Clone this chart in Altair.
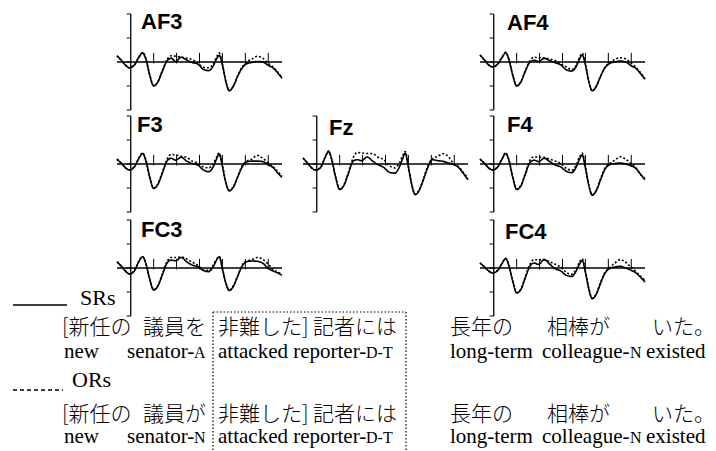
import altair as alt
import pandas as pd

# ---------------- data ----------------
# time points in ms (tick marks every 500 ms, 0 at the vertical axis)
T = [-300, -200, -100, -30, 80, 180, 260, 330, 410, 500, 590, 690, 790, 880, 980,
     1100, 1220, 1340, 1460, 1580, 1700, 1800, 1870, 1930, 2000, 2070, 2150, 2240,
     2330, 2420, 2520, 2640, 2760, 2880, 3000, 3100, 3200, 3300]

AF3_SR = [1.3, 0.3, -0.8, -1.2, -0.6, 1.0, 1.9, 0.6, -2.6, -5.0, -4.2, -1.9, 0.2, 0.8, 0.1, 1.0, 0.4, -0.1, -0.4, -1.5, -1.8, -0.8, 0.6, 1.4, -0.6, -3.9, -6.0, -5.0, -3.0, -1.4, -0.4, -0.1, 0.1, 0.0, -0.7, -1.2, -2.2, -3.4]
AF3_OR = [1.3, 0.3, -0.8, -1.2, -0.6, 1.1, 2.0, 0.7, -2.5, -4.9, -4.1, -1.8, 0.5, 1.3, 1.2, 1.0, 0.8, 0.5, -0.2, -1.1, -1.2, -0.4, 1.0, 1.9, -0.4, -3.8, -6.0, -5.0, -3.0, -1.2, -0.1, 0.6, 1.2, 0.8, -0.3, -1.0, -2.0, -3.3]
AF4_SR = [1.45, 0.4, -0.7, -1.0, -0.5, 0.9, 1.95, 0.5, -2.6, -5.0, -4.2, -1.9, 0.0, 0.35, 0.1, 0.75, 0.3, -0.15, -0.6, -1.6, -1.9, -0.9, 0.6, 1.45, -0.6, -3.9, -6.0, -5.0, -3.0, -1.3, -0.35, 0.0, 0.2, 0.0, -0.8, -1.3, -2.4, -3.6]
AF4_OR = [1.45, 0.4, -0.7, -1.0, -0.5, 1.0, 2.0, 0.6, -2.5, -4.9, -4.1, -1.8, 0.3, 1.0, 0.9, 0.9, 0.6, 0.3, -0.4, -1.0, -1.6, -0.7, 0.9, 1.8, -0.5, -3.8, -6.0, -5.0, -3.0, -1.2, -0.2, 0.5, 0.9, 0.6, -0.3, -1.1, -2.2, -3.5]
F3_SR = [1.0, 0.1, -0.9, -1.25, -0.6, 1.2, 2.2, 0.7, -2.6, -5.1, -4.3, -1.9, 0.6, 1.2, 0.8, 1.4, 0.6, 0.1, -0.2, -1.2, -1.6, -0.6, 1.0, 2.1, -0.5, -3.7, -5.6, -4.8, -2.8, -0.8, 0.4, 0.6, 0.6, 0.5, -0.2, -0.7, -1.8, -2.8]
F3_OR = [1.0, 0.1, -0.9, -1.2, -0.5, 1.3, 2.3, 0.8, -2.5, -5.0, -4.2, -1.7, 0.9, 2.0, 1.9, 1.6, 1.4, 0.6, 0.2, -0.6, -0.8, 0.0, 1.4, 2.3, -0.3, -3.6, -5.5, -4.7, -2.7, -0.6, 0.5, 1.0, 1.8, 1.2, 0.2, -0.5, -1.5, -2.5]
FZ_SR = [1.25, 0.2, -0.9, -1.3, -0.8, 1.3, 2.6, 0.8, -2.7, -5.3, -4.5, -2.0, 0.55, 0.9, 0.7, 1.45, 0.6, -0.15, -0.7, -1.7, -1.9, -0.7, 1.0, 2.3, -0.7, -4.2, -6.4, -5.4, -3.2, -0.8, 0.9, 0.7, 0.55, 0.2, -0.15, -0.8, -2.0, -3.3]
FZ_OR = [1.25, 0.2, -0.9, -1.2, -0.7, 1.4, 2.7, 0.9, -2.6, -5.2, -4.4, -1.8, 1.2, 2.4, 2.3, 2.2, 2.15, 1.4, 0.9, -0.3, -0.8, 0.2, 1.6, 2.6, -0.5, -4.1, -6.3, -5.3, -3.0, -0.5, 1.0, 1.6, 2.15, 1.45, -0.1, -0.6, -1.8, -2.9]
F4_SR = [1.0, 0.1, -0.9, -1.25, -0.7, 1.0, 2.2, 0.8, -2.6, -5.3, -4.6, -2.1, 0.3, 0.8, 0.5, 1.2, 0.5, -0.2, -0.6, -1.5, -1.8, -0.6, 1.0, 1.9, -0.8, -4.3, -6.5, -5.5, -3.3, -1.2, -0.2, 0.1, 0.2, 0.0, -0.4, -0.9, -2.1, -3.3]
F4_OR = [1.0, 0.1, -0.9, -1.2, -0.6, 1.1, 2.3, 0.9, -2.5, -5.2, -4.5, -1.9, 0.8, 1.5, 1.4, 1.4, 1.0, 0.6, 0.1, -0.9, -1.3, -0.2, 1.4, 2.3, -0.6, -4.2, -6.4, -5.4, -3.1, -1.0, 0.0, 0.8, 1.5, 1.0, 0.0, -0.8, -2.2, -3.0]
FC3_SR = [1.3, 0.3, -0.8, -1.25, -0.6, 1.4, 2.35, 0.9, -2.2, -4.6, -3.8, -1.4, 1.0, 1.65, 1.5, 2.2, 1.3, 0.6, 0.3, -0.5, -0.75, 0.3, 1.6, 2.35, -0.2, -3.0, -4.7, -3.8, -1.8, 0.2, 1.3, 1.45, 1.4, 1.0, -0.1, -0.6, -1.0, -1.5]
FC3_OR = [1.3, 0.3, -0.8, -1.2, -0.5, 1.5, 2.4, 1.0, -2.1, -4.5, -3.7, -1.2, 1.3, 2.2, 2.2, 2.3, 1.9, 1.2, 0.6, -0.4, -0.5, 0.6, 1.8, 2.4, -0.1, -2.9, -4.6, -3.7, -1.7, 0.4, 1.4, 1.7, 2.2, 1.8, 0.8, -0.3, -0.8, -1.3]
FC4_SR = [1.05, 0.2, -0.7, -1.05, -0.6, 0.9, 1.95, 0.5, -2.6, -5.2, -4.5, -2.0, 0.4, 1.05, 0.75, 1.75, 0.8, -0.15, -0.6, -1.5, -1.75, -0.6, 0.8, 1.6, -0.9, -4.2, -6.4, -5.4, -3.2, -1.2, -0.15, 0.2, 0.35, 0.0, -0.5, -1.0, -1.9, -2.9]
FC4_OR = [1.05, 0.2, -0.7, -1.0, -0.5, 1.0, 2.0, 0.6, -2.5, -5.1, -4.4, -1.8, 0.8, 1.75, 1.7, 1.75, 1.3, 0.8, 0.2, -0.9, -1.3, -0.2, 1.2, 1.95, -0.7, -4.1, -6.3, -5.3, -3.0, -1.0, 0.0, 1.0, 1.75, 1.2, 0.1, -0.7, -1.7, -2.6]

CHANNELS = ["AF3", "AF4", "F3", "Fz", "F4", "FC3", "FC4"]
WAVES = {"AF3": (AF3_SR, AF3_OR), "AF4": (AF4_SR, AF4_OR), "F3": (F3_SR, F3_OR),
         "Fz": (FZ_SR, FZ_OR), "F4": (F4_SR, F4_OR), "FC3": (FC3_SR, FC3_OR),
         "FC4": (FC4_SR, FC4_OR)}
SERIES = ["SRs", "ORs"]
TIME_TICKS = [500, 1000, 1500, 2000, 2500, 3000]
AMP_TICKS = [-10, -5, 0, 5, 10]

SR_JP = ["[新任の", "議員を", "非難した]", "記者には", "長年の", "相棒が", "いた。"]
OR_JP = ["[新任の", "議員が", "非難した]", "記者には", "長年の", "相棒が", "いた。"]
SR_EN = ["new", "senator-", "A", "attacked reporter-", "D-T", "long-term", "colleague-", "N", "existed"]
OR_EN = ["new", "senator-", "N", "attacked reporter-", "D-T", "long-term", "colleague-", "N", "existed"]
EN_SMALLCAPS = [False, False, True, False, True, False, False, True, False]

# ---------------- layout (page pixels; the page has an 8px margin) ----------------
OFF = 8
TMIN, TMAX = -300, 3300
PX_PER_UV = 4.8
COLS = {"L": (117, 282), "M": (303, 468), "R": (480, 645)}
ROW_ZERO = {1: 62, 2: 164, 3: 268}
PANEL = {"AF3": ("L", 1, 141, 29), "AF4": ("R", 1, 507, 30),
         "F3": ("L", 2, 137, 132), "Fz": ("M", 2, 329, 135), "F4": ("R", 2, 507, 132),
         "FC3": ("L", 3, 141, 237), "FC4": ("R", 3, 505, 239)}

JP_X = [62, 143, 218, 313, 450, 547, 652]
EN_X = [64, 127, 194, 218, 366, 450, 542, 630, 646]
SR_Y = {"label": 305, "jp": 334, "en": 358}
OR_Y = {"label": 387, "jp": 421, "en": 443}
SERIF = "Liberation Serif"
JPFONT = "Noto Sans CJK JP"
FS = 21
FS_SC = 16


def panel_layers(name):
    col, row, tx, ty = PANEL[name]
    x0, x1 = COLS[col]
    z = ROW_ZERO[row]
    xs = alt.Scale(domain=[TMIN, TMAX], range=[x0 - OFF, x1 - OFF], nice=False, zero=False)
    ys = alt.Scale(domain=[-10, 10], range=[z + 10 * PX_PER_UV - OFF, z - 10 * PX_PER_UV - OFF],
                   nice=False, zero=False)
    X = lambda f: alt.X(f, type="quantitative", scale=xs, axis=None)
    Y = lambda f: alt.Y(f, type="quantitative", scale=ys, axis=None)
    sr, orr = WAVES[name]
    wave = pd.DataFrame({"t": T + T, "v": sr + orr,
                         "series": [SERIES[0]] * len(T) + [SERIES[1]] * len(T)})
    layers = []
    # zero line
    layers.append(alt.Chart(pd.DataFrame({"t": [TMIN], "t2": [TMAX], "v": [0]}))
                  .mark_rule(color="black", strokeWidth=1.3)
                  .encode(x=X("t"), x2="t2", y=Y("v")))
    # time ticks on the zero line
    layers.append(alt.Chart(pd.DataFrame({"t": TIME_TICKS, "v": [-0.3] * 6, "v2": [1.9] * 6}))
                  .mark_rule(color="black", strokeWidth=1)
                  .encode(x=X("t"), y=Y("v"), y2="v2"))
    # amplitude axis
    layers.append(alt.Chart(pd.DataFrame({"t": [0], "v": [-10], "v2": [10]}))
                  .mark_rule(color="black", strokeWidth=1.3)
                  .encode(x=X("t"), y=Y("v"), y2="v2"))
    layers.append(alt.Chart(pd.DataFrame({"t": [-90] * 5, "t2": [0] * 5, "v": AMP_TICKS}))
                  .mark_rule(color="black", strokeWidth=1)
                  .encode(x=X("t"), x2="t2", y=Y("v")))
    # waveforms
    layers.append(alt.Chart(wave)
                  .mark_line(color="black", strokeWidth=1.6, interpolate="monotone")
                  .encode(x=X("t"), y=Y("v"), detail="series:N",
                          strokeDash=alt.StrokeDash("series:N",
                                                    scale=alt.Scale(domain=SERIES, range=[[1, 0], [2, 2]]),
                                                    legend=None)))
    # panel label
    layers.append(alt.Chart(pd.DataFrame({"lab": [name]}))
                  .mark_text(font="Liberation Sans", fontWeight="bold", fontSize=22,
                             align="left", baseline="alphabetic", color="black")
                  .encode(text="lab:N", x=alt.value(tx - OFF), y=alt.value(ty - OFF)))
    return layers


def text_layer(words, xs, y, font, sizes, weight="normal"):
    df = pd.DataFrame({"w": words, "px": [x - OFF for x in xs], "py": [y - OFF] * len(words),
                       "fs": sizes})
    return (alt.Chart(df)
            .mark_text(font=font, fontWeight=weight, align="left", baseline="alphabetic",
                       color="black")
            .encode(text="w:N", x=alt.X("px:Q", scale=None, axis=None),
                    y=alt.Y("py:Q", scale=None, axis=None),
                    size=alt.Size("fs:Q", scale=None, legend=None)))


layers = []
for ch in CHANNELS:
    layers += panel_layers(ch)

en_sizes = [FS_SC if s else FS for s in EN_SMALLCAPS]
for lab, jp, en, Ypos in [("SRs", SR_JP, SR_EN, SR_Y), ("ORs", OR_JP, OR_EN, OR_Y)]:
    layers.append(text_layer([lab], [80 if lab == "SRs" else 72], Ypos["label"], SERIF, [22]))
    layers.append(text_layer(jp, JP_X, Ypos["jp"], JPFONT, [FS] * len(jp), weight=300))
    layers.append(text_layer(en, EN_X, Ypos["en"], SERIF, en_sizes))

# legend samples
layers.append(alt.Chart(pd.DataFrame({"s": ["SRs"]})).mark_rule(color="black", strokeWidth=1.5)
              .encode(x=alt.value(13 - OFF), x2=alt.value(67 - OFF), y=alt.value(305 - OFF)))
layers.append(alt.Chart(pd.DataFrame({"s": ["ORs"]})).mark_rule(color="black", strokeWidth=1.5,
                                                              strokeDash=[4, 3])
              .encode(x=alt.value(13 - OFF), x2=alt.value(63 - OFF), y=alt.value(390 - OFF)))
# dotted box around the relative clause verb/head
BOX = dict(left=213, right=406, top=312, bottom=451)
box_style = dict(color="black", strokeWidth=1.2, strokeDash=[1.5, 2])
layers.append(alt.Chart(pd.DataFrame({"s": ["top"]})).mark_rule(**box_style)
              .encode(x=alt.value(BOX["left"] - OFF), x2=alt.value(BOX["right"] - OFF),
                      y=alt.value(BOX["top"] - OFF)))
for side in ["left", "right"]:
    layers.append(alt.Chart(pd.DataFrame({"s": [side]})).mark_rule(**box_style)
                  .encode(x=alt.value(BOX[side] - OFF), y=alt.value(BOX["top"] - OFF),
                          y2=alt.value(BOX["bottom"] - OFF)))

chart = (alt.layer(*layers)
         .resolve_scale(x="independent", y="independent")
         .properties(width=700, height=443, padding=0,
                     autosize=alt.AutoSizeParams(type="none"))
         .configure_view(stroke=None))

chart.save("out.html", embed_options={"renderer": "svg", "actions": False})
